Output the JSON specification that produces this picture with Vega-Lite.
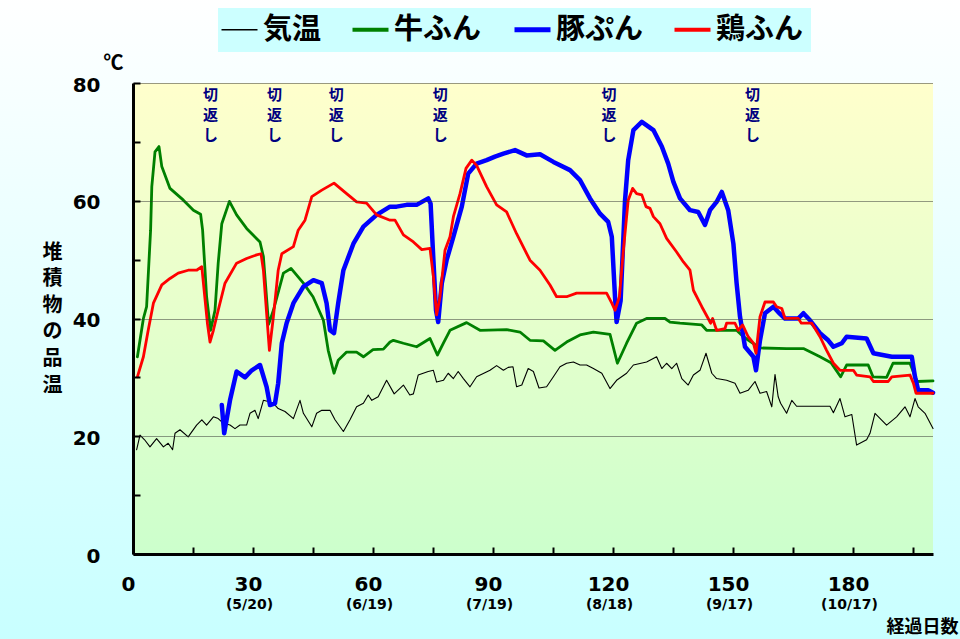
{
"$schema": "https://vega.github.io/schema/vega-lite/v6.json",
"width": 800, "height": 471,
"autosize": "none",
"padding": {"left": 133, "top": 83, "right": 27, "bottom": 85},
"background": "#ccffff",
"view": {"stroke": null},
"resolve": {"axis": {"x": "independent", "y": "independent"}},
"layer": [
{
"data": {"values": [{}]},
"mark": {"type": "rect", "fill": {"gradient": "linear", "x1": 0, "y1": 0, "x2": 0, "y2": 1, "stops": [{"offset": 0, "color": "#ffffff"}, {"offset": 1, "color": "#c8ffff"}]}},
"encoding": {
"x": {"datum": -34, "type": "quantitative", "scale": {"domain": [0, 200], "nice": false, "zero": false}, "axis": null},
"x2": {"datum": 207},
"y": {"datum": 95, "type": "quantitative", "scale": {"domain": [0, 80], "nice": false}, "axis": null},
"y2": {"datum": -15}
}
},
{
"data": {"values": [{}]},
"mark": {"type": "rect", "fill": {"gradient": "linear", "x1": 0, "y1": 0, "x2": 0, "y2": 1, "stops": [{"offset": 0, "color": "#ffffcc"}, {"offset": 1, "color": "#ccffcc"}]}},
"encoding": {
"x": {"datum": 0, "type": "quantitative", "scale": {"domain": [0, 200], "nice": false, "zero": false}, "axis": null},
"x2": {"datum": 200},
"y": {"datum": 80, "type": "quantitative", "scale": {"domain": [0, 80], "nice": false}, "axis": null},
"y2": {"datum": 0}
}
},
{
"data": {"values": [
{"s":"気温","d":0.9,"v":17.7},{"s":"気温","d":1.75,"v":20.2},{"s":"気温","d":2.9,"v":19.4},{"s":"気温","d":4.25,"v":18.2},{"s":"気温","d":5.9,"v":19.6},{"s":"気温","d":7.6,"v":18.2},{"s":"気温","d":8.8,"v":18.8},{"s":"気温","d":9.9,"v":17.7},{"s":"気温","d":10.5,"v":20.5},{"s":"気温","d":11.75,"v":21.1},{"s":"気温","d":13.8,"v":19.9},{"s":"気温","d":15.9,"v":21.9},{"s":"気温","d":17.2,"v":22.8},{"s":"気温","d":18.4,"v":21.9},{"s":"気温","d":20.1,"v":23.3},{"s":"気温","d":21.3,"v":23},{"s":"気温","d":22.6,"v":22.2},{"s":"気温","d":24.25,"v":21.9},{"s":"気温","d":25.5,"v":21.3},{"s":"気温","d":26.75,"v":21.9},{"s":"気温","d":28.4,"v":21.9},{"s":"気温","d":29.25,"v":23.9},{"s":"気温","d":30.5,"v":24.4},{"s":"気温","d":31.3,"v":23},{"s":"気温","d":32.6,"v":26.1},{"s":"気温","d":33.8,"v":25.9},{"s":"気温","d":35.1,"v":25.6},{"s":"気温","d":36.3,"v":24.7},{"s":"気温","d":38,"v":24.2},{"s":"気温","d":40.1,"v":23},{"s":"気温","d":41.75,"v":26.1},{"s":"気温","d":42.6,"v":23.9},{"s":"気温","d":44.7,"v":21.6},{"s":"気温","d":45.9,"v":23.9},{"s":"気温","d":47.2,"v":24.4},{"s":"気温","d":49.25,"v":24.4},{"s":"気温","d":50.5,"v":22.8},{"s":"気温","d":52.6,"v":20.8},{"s":"気温","d":54.25,"v":22.8},{"s":"気温","d":55.9,"v":25},{"s":"気温","d":57.6,"v":25.6},{"s":"気温","d":58.8,"v":27},{"s":"気温","d":59.7,"v":26.1},{"s":"気温","d":61.3,"v":26.7},{"s":"気温","d":63.4,"v":29.5},{"s":"気温","d":65.3,"v":27.2},{"s":"気温","d":67.6,"v":28.7},{"s":"気温","d":69.2,"v":27},{"s":"気温","d":70.1,"v":27.2},{"s":"気温","d":71.3,"v":30.4},{"s":"気温","d":73.8,"v":31},{"s":"気温","d":75.1,"v":31.2},{"s":"気温","d":75.9,"v":29.2},{"s":"気温","d":77.6,"v":29.5},{"s":"気温","d":78.8,"v":30.7},{"s":"気温","d":80.1,"v":29.8},{"s":"気温","d":81.3,"v":31},{"s":"気温","d":82.6,"v":29.8},{"s":"気温","d":84.25,"v":28.4},{"s":"気温","d":85.9,"v":30.1},{"s":"気温","d":89.25,"v":31.2},{"s":"気温","d":90.9,"v":32},{"s":"気温","d":92.6,"v":31.2},{"s":"気温","d":93.8,"v":31.7},{"s":"気温","d":95,"v":31.8},{"s":"気温","d":95.9,"v":28.4},{"s":"気温","d":97.2,"v":28.7},{"s":"気温","d":98.8,"v":31.5},{"s":"気温","d":100.1,"v":31},{"s":"気温","d":101.5,"v":28.2},{"s":"気温","d":103.4,"v":28.4},{"s":"気温","d":105.1,"v":30.1},{"s":"気温","d":106.75,"v":31.8},{"s":"気温","d":108.4,"v":32.4},{"s":"気温","d":110.1,"v":32.6},{"s":"気温","d":111.75,"v":32.1},{"s":"気温","d":113.4,"v":32.1},{"s":"気温","d":115.1,"v":31.5},{"s":"気温","d":117.2,"v":30.7},{"s":"気温","d":119.25,"v":28.1},{"s":"気温","d":120.9,"v":29.5},{"s":"気温","d":123.4,"v":30.7},{"s":"気温","d":125.1,"v":32.1},{"s":"気温","d":128.4,"v":32.6},{"s":"気温","d":130.9,"v":33.5},{"s":"気温","d":132.2,"v":31.5},{"s":"気温","d":133.4,"v":32.4},{"s":"気温","d":134.7,"v":31.5},{"s":"気温","d":135.9,"v":32.4},{"s":"気温","d":137.2,"v":29.8},{"s":"気温","d":138.8,"v":28.7},{"s":"気温","d":140.1,"v":30.4},{"s":"気温","d":141.75,"v":31.2},{"s":"気温","d":143.25,"v":34.1},{"s":"気温","d":144.7,"v":30.7},{"s":"気温","d":145.9,"v":29.8},{"s":"気温","d":148.4,"v":29.5},{"s":"気温","d":150.5,"v":29},{"s":"気温","d":151.75,"v":27.3},{"s":"気温","d":153.8,"v":27.8},{"s":"気温","d":155.5,"v":29.3},{"s":"気温","d":156.75,"v":27.3},{"s":"気温","d":158.4,"v":27.6},{"s":"気温","d":159.7,"v":25},{"s":"気温","d":160.5,"v":30.5},{"s":"気温","d":161.3,"v":26.7},{"s":"気温","d":161.9,"v":25.6},{"s":"気温","d":163.4,"v":23.9},{"s":"気温","d":164.7,"v":26.1},{"s":"気温","d":165.9,"v":25.1},{"s":"気温","d":174.25,"v":25.1},{"s":"気温","d":175.1,"v":24},{"s":"気温","d":176.75,"v":26.4},{"s":"気温","d":178,"v":23.3},{"s":"気温","d":179.7,"v":23.7},{"s":"気温","d":180.9,"v":18.5},{"s":"気温","d":183.4,"v":19.4},{"s":"気温","d":184.25,"v":20.5},{"s":"気温","d":185.5,"v":23.9},{"s":"気温","d":188.4,"v":21.9},{"s":"気温","d":190.9,"v":23.3},{"s":"気温","d":193,"v":25},{"s":"気温","d":194.25,"v":23.3},{"s":"気温","d":195.5,"v":26.4},{"s":"気温","d":196.3,"v":25},{"s":"気温","d":198,"v":23.9},{"s":"気温","d":200,"v":21.3},
{"s":"牛ふん","d":1.1,"v":33.5},{"s":"牛ふん","d":2.6,"v":40},{"s":"牛ふん","d":3.4,"v":42},{"s":"牛ふん","d":4.4,"v":55},{"s":"牛ふん","d":4.7,"v":62.4},{"s":"牛ふん","d":5.5,"v":68.3},{"s":"牛ふん","d":6.5,"v":69.2},{"s":"牛ふん","d":7.2,"v":65.8},{"s":"牛ふん","d":9.25,"v":62.1},{"s":"牛ふん","d":12.6,"v":60.1},{"s":"牛ふん","d":15.1,"v":58.4},{"s":"牛ふん","d":16.9,"v":57.7},{"s":"牛ふん","d":17.4,"v":55},{"s":"牛ふん","d":18.4,"v":43.7},{"s":"牛ふん","d":19.4,"v":38},{"s":"牛ふん","d":20.5,"v":41.4},{"s":"牛ふん","d":21.3,"v":49.4},{"s":"牛ふん","d":22.2,"v":56.1},{"s":"牛ふん","d":24.1,"v":59.9},{"s":"牛ふん","d":25.9,"v":57.6},{"s":"牛ふん","d":28.4,"v":55.3},{"s":"牛ふん","d":31.75,"v":53},{"s":"牛ふん","d":32.6,"v":50.5},{"s":"牛ふん","d":33.9,"v":39},{"s":"牛ふん","d":35.1,"v":41.4},{"s":"牛ふん","d":37.6,"v":47.7},{"s":"牛ふん","d":39.5,"v":48.5},{"s":"牛ふん","d":42.6,"v":46},{"s":"牛ふん","d":45,"v":43.7},{"s":"牛ふん","d":47.6,"v":39.7},{"s":"牛ふん","d":48.8,"v":34.6},{"s":"牛ふん","d":50.25,"v":30.7},{"s":"牛ふん","d":51.3,"v":32.9},{"s":"牛ふん","d":53.4,"v":34.3},{"s":"牛ふん","d":55.9,"v":34.3},{"s":"牛ふん","d":57.6,"v":33.5},{"s":"牛ふん","d":60,"v":34.7},{"s":"牛ふん","d":62.6,"v":34.8},{"s":"牛ふん","d":64.25,"v":36},{"s":"牛ふん","d":65.1,"v":36.3},{"s":"牛ふん","d":67.6,"v":35.8},{"s":"牛ふん","d":70.9,"v":35.2},{"s":"牛ふん","d":74.25,"v":36.6},{"s":"牛ふん","d":76.1,"v":33.8},{"s":"牛ふん","d":77.6,"v":35.8},{"s":"牛ふん","d":79.25,"v":38},{"s":"牛ふん","d":83.4,"v":39.3},{"s":"牛ふん","d":86.75,"v":38},{"s":"牛ふん","d":93.4,"v":38.1},{"s":"牛ふん","d":96.75,"v":37.7},{"s":"牛ふん","d":99.25,"v":36.3},{"s":"牛ふん","d":102.6,"v":36.2},{"s":"牛ふん","d":105.5,"v":34.6},{"s":"牛ふん","d":108.4,"v":36},{"s":"牛ふん","d":111.75,"v":37.2},{"s":"牛ふん","d":115.1,"v":37.7},{"s":"牛ふん","d":119.25,"v":37.3},{"s":"牛ふん","d":121.1,"v":32.4},{"s":"牛ふん","d":123.4,"v":35.8},{"s":"牛ふん","d":125.9,"v":39.2},{"s":"牛ふん","d":128.4,"v":40},{"s":"牛ふん","d":133,"v":40},{"s":"牛ふん","d":134.25,"v":39.4},{"s":"牛ふん","d":136.75,"v":39.2},{"s":"牛ふん","d":142.2,"v":38.9},{"s":"牛ふん","d":143.4,"v":38},{"s":"牛ふん","d":150.9,"v":38},{"s":"牛ふん","d":152.6,"v":36.9},{"s":"牛ふん","d":155,"v":35.8},{"s":"牛ふん","d":156.75,"v":35},{"s":"牛ふん","d":163.4,"v":34.9},{"s":"牛ふん","d":167.6,"v":34.9},{"s":"牛ふん","d":170,"v":34.1},{"s":"牛ふん","d":171.75,"v":33.5},{"s":"牛ふん","d":174.5,"v":32.5},{"s":"牛ふん","d":176.9,"v":30.1},{"s":"牛ふん","d":178.4,"v":32.1},{"s":"牛ふん","d":183.8,"v":32.1},{"s":"牛ふん","d":185,"v":30.1},{"s":"牛ふん","d":188.4,"v":30},{"s":"牛ふん","d":190,"v":32.4},{"s":"牛ふん","d":194.25,"v":32.4},{"s":"牛ふん","d":196,"v":29.3},{"s":"牛ふん","d":200,"v":29.4},
{"s":"豚ぷん","d":22.2,"v":25.3},{"s":"豚ぷん","d":22.8,"v":20.5},{"s":"豚ぷん","d":24.25,"v":26.1},{"s":"豚ぷん","d":25.9,"v":31},{"s":"豚ぷん","d":28,"v":30},{"s":"豚ぷん","d":29.7,"v":31.2},{"s":"豚ぷん","d":31.75,"v":32.1},{"s":"豚ぷん","d":33.4,"v":28.4},{"s":"豚ぷん","d":34.25,"v":25.3},{"s":"豚ぷん","d":35.5,"v":25.6},{"s":"豚ぷん","d":36.3,"v":29},{"s":"豚ぷん","d":37.2,"v":35.8},{"s":"豚ぷん","d":38.4,"v":39.2},{"s":"豚ぷん","d":40.1,"v":42.6},{"s":"豚ぷん","d":42.6,"v":45.4},{"s":"豚ぷん","d":45.1,"v":46.5},{"s":"豚ぷん","d":47.2,"v":46},{"s":"豚ぷん","d":48.4,"v":42.6},{"s":"豚ぷん","d":49.25,"v":38},{"s":"豚ぷん","d":50.25,"v":37.5},{"s":"豚ぷん","d":51.3,"v":42.6},{"s":"豚ぷん","d":52.6,"v":48.2},{"s":"豚ぷん","d":55.1,"v":52.7},{"s":"豚ぷん","d":57.6,"v":55.6},{"s":"豚ぷん","d":60.9,"v":57.6},{"s":"豚ぷん","d":64.25,"v":59},{"s":"豚ぷん","d":65.9,"v":59},{"s":"豚ぷん","d":68.4,"v":59.3},{"s":"豚ぷん","d":70.9,"v":59.3},{"s":"豚ぷん","d":73.8,"v":60.4},{"s":"豚ぷん","d":74.4,"v":59.5},{"s":"豚ぷん","d":75.1,"v":49.9},{"s":"豚ぷん","d":75.75,"v":41.4},{"s":"豚ぷん","d":76.3,"v":39.4},{"s":"豚ぷん","d":77.2,"v":46},{"s":"豚ぷん","d":78.4,"v":49.9},{"s":"豚ぷん","d":80.1,"v":53.9},{"s":"豚ぷん","d":82.2,"v":59},{"s":"豚ぷん","d":83.8,"v":64.6},{"s":"豚ぷん","d":85.9,"v":66.3},{"s":"豚ぷん","d":88.4,"v":66.9},{"s":"豚ぷん","d":90.5,"v":67.5},{"s":"豚ぷん","d":92.6,"v":68},{"s":"豚ぷん","d":95.5,"v":68.6},{"s":"豚ぷん","d":98.4,"v":67.7},{"s":"豚ぷん","d":101.75,"v":67.9},{"s":"豚ぷん","d":105.1,"v":66.6},{"s":"豚ぷん","d":109.25,"v":65.2},{"s":"豚ぷん","d":111.75,"v":63.5},{"s":"豚ぷん","d":114.25,"v":60.4},{"s":"豚ぷん","d":116.75,"v":57.8},{"s":"豚ぷん","d":118.8,"v":56.4},{"s":"豚ぷん","d":119.7,"v":53.9},{"s":"豚ぷん","d":120.5,"v":43.7},{"s":"豚ぷん","d":120.9,"v":39.4},{"s":"豚ぷん","d":121.9,"v":43},{"s":"豚ぷん","d":123,"v":60},{"s":"豚ぷん","d":123.8,"v":66.9},{"s":"豚ぷん","d":125.1,"v":72},{"s":"豚ぷん","d":127.2,"v":73.4},{"s":"豚ぷん","d":130.1,"v":72},{"s":"豚ぷん","d":132.2,"v":69.2},{"s":"豚ぷん","d":133.8,"v":66.3},{"s":"豚ぷん","d":135.1,"v":63.2},{"s":"豚ぷん","d":136.75,"v":60.4},{"s":"豚ぷん","d":139.25,"v":58.4},{"s":"豚ぷん","d":141.3,"v":58.1},{"s":"豚ぷん","d":143,"v":55.9},{"s":"豚ぷん","d":144.25,"v":58.4},{"s":"豚ぷん","d":145.9,"v":59.8},{"s":"豚ぷん","d":147.2,"v":61.5},{"s":"豚ぷん","d":148.8,"v":58.4},{"s":"豚ぷん","d":150.1,"v":52.7},{"s":"豚ぷん","d":150.9,"v":46},{"s":"豚ぷん","d":151.75,"v":40.3},{"s":"豚ぷん","d":153,"v":35.2},{"s":"豚ぷん","d":155.1,"v":33.5},{"s":"豚ぷん","d":155.75,"v":31.2},{"s":"豚ぷん","d":156.75,"v":36.3},{"s":"豚ぷん","d":158,"v":40.9},{"s":"豚ぷん","d":160.1,"v":42},{"s":"豚ぷん","d":161.3,"v":41.1},{"s":"豚ぷん","d":163,"v":40},{"s":"豚ぷん","d":166.3,"v":40},{"s":"豚ぷん","d":167.6,"v":40.9},{"s":"豚ぷん","d":169.25,"v":39.7},{"s":"豚ぷん","d":171.75,"v":37.5},{"s":"豚ぷん","d":173.8,"v":36.3},{"s":"豚ぷん","d":175.1,"v":35.2},{"s":"豚ぷん","d":177.2,"v":35.8},{"s":"豚ぷん","d":178.4,"v":36.9},{"s":"豚ぷん","d":183.4,"v":36.6},{"s":"豚ぷん","d":185.1,"v":34.1},{"s":"豚ぷん","d":189.7,"v":33.5},{"s":"豚ぷん","d":194.7,"v":33.5},{"s":"豚ぷん","d":195.5,"v":30.1},{"s":"豚ぷん","d":196.3,"v":27.8},{"s":"豚ぷん","d":198.8,"v":27.8},{"s":"豚ぷん","d":200,"v":27.4},
{"s":"鶏ふん","d":1.1,"v":30.1},{"s":"鶏ふん","d":2.6,"v":33.5},{"s":"鶏ふん","d":3.8,"v":38},{"s":"鶏ふん","d":5.1,"v":42.6},{"s":"鶏ふん","d":7.2,"v":45.7},{"s":"鶏ふん","d":9.25,"v":46.8},{"s":"鶏ふん","d":11.3,"v":47.7},{"s":"鶏ふん","d":13.8,"v":48.2},{"s":"鶏ふん","d":15.9,"v":48.2},{"s":"鶏ふん","d":17.2,"v":48.8},{"s":"鶏ふん","d":17.6,"v":46},{"s":"鶏ふん","d":18.6,"v":39.2},{"s":"鶏ふん","d":19.25,"v":36},{"s":"鶏ふん","d":20.1,"v":38},{"s":"鶏ふん","d":21.3,"v":41.4},{"s":"鶏ふん","d":23,"v":46},{"s":"鶏ふん","d":25.9,"v":49.4},{"s":"鶏ふん","d":28.4,"v":50.2},{"s":"鶏ふん","d":30.9,"v":50.8},{"s":"鶏ふん","d":32,"v":51},{"s":"鶏ふん","d":32.6,"v":48.2},{"s":"鶏ふん","d":33.4,"v":40.9},{"s":"鶏ふん","d":34.1,"v":34.6},{"s":"鶏ふん","d":35.1,"v":40.3},{"s":"鶏ふん","d":36.3,"v":48.2},{"s":"鶏ふん","d":37.2,"v":51},{"s":"鶏ふん","d":40.1,"v":52.2},{"s":"鶏ふん","d":41.3,"v":55},{"s":"鶏ふん","d":43,"v":56.7},{"s":"鶏ふん","d":44.7,"v":60.7},{"s":"鶏ふん","d":47.2,"v":61.8},{"s":"鶏ふん","d":50.25,"v":63},{"s":"鶏ふん","d":53.4,"v":61.2},{"s":"鶏ふん","d":55.9,"v":59.8},{"s":"鶏ふん","d":58.4,"v":59.6},{"s":"鶏ふん","d":60.9,"v":57.6},{"s":"鶏ふん","d":64.25,"v":56.7},{"s":"鶏ふん","d":65.5,"v":56.7},{"s":"鶏ふん","d":67.6,"v":54.2},{"s":"鶏ふん","d":70.1,"v":53},{"s":"鶏ふん","d":72.2,"v":51.7},{"s":"鶏ふん","d":74.25,"v":51.9},{"s":"鶏ふん","d":75.1,"v":47.1},{"s":"鶏ふん","d":75.9,"v":40.6},{"s":"鶏ふん","d":76.75,"v":43.7},{"s":"鶏ふん","d":78,"v":51.6},{"s":"鶏ふん","d":79.25,"v":53.9},{"s":"鶏ふん","d":80.1,"v":57.3},{"s":"鶏ふん","d":81.75,"v":61.2},{"s":"鶏ふん","d":83.25,"v":65.5},{"s":"鶏ふん","d":84.7,"v":66.9},{"s":"鶏ふん","d":85.9,"v":66},{"s":"鶏ふん","d":88.4,"v":62.4},{"s":"鶏ふん","d":90.9,"v":59.3},{"s":"鶏ふん","d":93.4,"v":58.1},{"s":"鶏ふん","d":95.9,"v":54.4},{"s":"鶏ふん","d":99.25,"v":49.9},{"s":"鶏ふん","d":101.75,"v":48.2},{"s":"鶏ふん","d":104.25,"v":45.7},{"s":"鶏ふん","d":105.9,"v":43.7},{"s":"鶏ふん","d":108.4,"v":43.7},{"s":"鶏ふん","d":110.9,"v":44.3},{"s":"鶏ふん","d":118.4,"v":44.3},{"s":"鶏ふん","d":119.7,"v":42.6},{"s":"鶏ふん","d":120.5,"v":41.4},{"s":"鶏ふん","d":121.6,"v":43.7},{"s":"鶏ふん","d":122.6,"v":51.6},{"s":"鶏ふん","d":123.8,"v":60.1},{"s":"鶏ふん","d":124.9,"v":62.1},{"s":"鶏ふん","d":125.9,"v":61.2},{"s":"鶏ふん","d":127.2,"v":61},{"s":"鶏ふん","d":128.25,"v":59},{"s":"鶏ふん","d":129.25,"v":58.7},{"s":"鶏ふん","d":130.1,"v":57.3},{"s":"鶏ふん","d":131.75,"v":56.1},{"s":"鶏ふん","d":133.4,"v":53.6},{"s":"鶏ふん","d":135.9,"v":51.3},{"s":"鶏ふん","d":137.6,"v":49.6},{"s":"鶏ふん","d":139.25,"v":48.2},{"s":"鶏ふん","d":140.1,"v":44.8},{"s":"鶏ふん","d":142.2,"v":42},{"s":"鶏ふん","d":143.8,"v":40},{"s":"鶏ふん","d":144.4,"v":39.2},{"s":"鶏ふん","d":144.9,"v":40},{"s":"鶏ふん","d":145.9,"v":38},{"s":"鶏ふん","d":148,"v":38.3},{"s":"鶏ふん","d":148.4,"v":39.2},{"s":"鶏ふん","d":150.5,"v":39.2},{"s":"鶏ふん","d":151.3,"v":38},{"s":"鶏ふん","d":152.4,"v":38.9},{"s":"鶏ふん","d":153.8,"v":36.9},{"s":"鶏ふん","d":155.1,"v":35.8},{"s":"鶏ふん","d":155.75,"v":34.1},{"s":"鶏ふん","d":156.75,"v":40.3},{"s":"鶏ふん","d":158,"v":42.8},{"s":"鶏ふん","d":160.1,"v":42.8},{"s":"鶏ふん","d":160.9,"v":42},{"s":"鶏ふん","d":162.2,"v":41.7},{"s":"鶏ふん","d":163,"v":40},{"s":"鶏ふん","d":166.3,"v":40},{"s":"鶏ふん","d":167.1,"v":39.2},{"s":"鶏ふん","d":169.7,"v":39.2},{"s":"鶏ふん","d":171.75,"v":36.9},{"s":"鶏ふん","d":173.4,"v":34.6},{"s":"鶏ふん","d":175.1,"v":32.4},{"s":"鶏ふん","d":176.75,"v":31.2},{"s":"鶏ふん","d":180.1,"v":31.2},{"s":"鶏ふん","d":180.9,"v":30.4},{"s":"鶏ふん","d":184.25,"v":30.1},{"s":"鶏ふん","d":185.1,"v":29.3},{"s":"鶏ふん","d":188.8,"v":29.3},{"s":"鶏ふん","d":189.7,"v":30.1},{"s":"鶏ふん","d":194.25,"v":30.4},{"s":"鶏ふん","d":195.1,"v":29},{"s":"鶏ふん","d":195.75,"v":27.3},{"s":"鶏ふん","d":200,"v":27.3}
]},
"mark": {"type": "line", "strokeJoin": "round", "strokeCap": "round"},
"encoding": {
"x": {"field": "d", "type": "quantitative", "scale": {"domain": [0, 200], "nice": false, "zero": false},
 "axis": {"orient": "bottom", "values": [0,15,30,45,60,75,90,105,120,135,150,165,180,195], "labelExpr": "datum.value % 30 === 0 ? datum.label : ''", "labelFlush": false, "labelOverlap": false, "domainColor": "#000000", "domainWidth": 3, "tickColor": "#000000", "tickWidth": 2, "tickSize": -7, "labelFont": "DejaVu Sans", "labelFontWeight": "bold", "labelFontSize": 20, "labelColor": "#000000", "labelPadding": 27, "labelOffset": -5, "grid": false, "title": null, "zindex": 1}},
"y": {"field": "v", "type": "quantitative", "scale": {"domain": [0, 80], "nice": false},
 "axis": {"orient": "left", "values": [0,10,20,30,40,50,60,70,80], "labelExpr": "datum.value % 20 === 0 ? datum.label : ''", "labelFlush": false, "labelOverlap": false, "domainColor": "#000000", "domainWidth": 3, "tickColor": "#000000", "tickWidth": 2, "tickSize": -7, "labelFont": "DejaVu Sans", "labelFontWeight": "bold", "labelFontSize": 20, "labelColor": "#000000", "labelPadding": 40, "labelOffset": 2, "grid": true, "gridColor": "#333333", "gridDash": [1, 1], "gridWidth": 1, "gridOpacity": {"condition": {"test": "datum.value % 20 === 0 && datum.value > 0", "value": 1}, "value": 0}, "title": ["堆","積","物","の","品","温"], "titleAngle": 0, "titleX": -81, "titleY": 169, "titleAlign": "center", "titleBaseline": "middle", "titleLineHeight": 26.6, "titleFont": "Noto Sans CJK JP", "titleFontSize": 20, "titleFontWeight": "bold", "titleColor": "#000000", "zindex": 1}},
"color": {"field": "s", "type": "nominal", "scale": {"domain": ["気温","牛ふん","豚ぷん","鶏ふん"], "range": ["#000000","#008000","#0000ff","#ff0000"]},
 "legend": {"title": null, "orient": "none", "legendX": 85, "legendY": -75, "direction": "horizontal", "fillColor": "#ccffff", "padding": 7, "symbolType": "stroke", "symbolSize": 1296, "symbolStrokeWidth": 4, "labelFont": "Noto Sans CJK JP", "labelFontWeight": "bold", "labelFontSize": 29, "labelColor": "#000000", "labelOffset": 9, "columnPadding": 22, "labelLimit": 300,
  "encode": {"symbols": {"update": {"strokeWidth": {"signal": "datum.value === '豚ぷん' ? 5 : datum.value === '気温' ? 1.5 : 4"}}}}}},
"strokeWidth": {"condition": [{"test": "datum.s === '豚ぷん'", "value": 4.5}, {"test": "datum.s === '気温'", "value": 1.1}], "value": 2.8}
}
},
{
"data": {"values": [{"d":19.4,"t":"切\n返\nし"},{"d":35.4,"t":"切\n返\nし"},{"d":50.8,"t":"切\n返\nし"},{"d":76.8,"t":"切\n返\nし"},{"d":119,"t":"切\n返\nし"},{"d":154.9,"t":"切\n返\nし"}]},
"mark": {"type": "text", "font": "Noto Sans CJK JP", "fontWeight": "bold", "fontSize": 15, "color": "#000080", "lineBreak": "\n", "lineHeight": 20, "baseline": "middle", "align": "center"},
"encoding": {
"x": {"field": "d", "type": "quantitative", "scale": {"domain": [0, 200], "nice": false, "zero": false},
 "axis": {"orient": "bottom", "values": [30,60,90,120,150,180], "labelExpr": "datum.value === 30 ? '(5/20)' : datum.value === 60 ? '(6/19)' : datum.value === 90 ? '(7/19)' : datum.value === 120 ? '(8/18)' : datum.value === 150 ? '(9/17)' : '(10/17)'", "labelFlush": false, "labelOverlap": false, "domain": false, "ticks": false, "grid": false, "labelFont": "DejaVu Sans", "labelFontWeight": "bold", "labelFontSize": 14, "labelColor": "#000000", "labelPadding": 43, "labelOffset": -4, "title": "経過日数", "titleX": 825, "titleY": 73, "titleAlign": "right", "titleBaseline": "middle", "titleAngle": 0, "titleFont": "Noto Sans CJK JP", "titleFontSize": 18, "titleFontWeight": "bold", "titleColor": "#000000", "zindex": 1}},
"y": {"datum": 78, "type": "quantitative", "scale": {"domain": [0, 80], "nice": false},
 "axis": {"orient": "left", "domain": false, "ticks": false, "labels": false, "grid": false, "title": "℃", "titleAngle": 0, "titleX": -20, "titleY": -20, "titleAlign": "center", "titleBaseline": "middle", "titleFont": "Noto Sans CJK JP", "titleFontSize": 20, "titleFontWeight": "bold", "titleColor": "#000000", "zindex": 1}},
"text": {"field": "t", "type": "nominal"}
}
}
]
}
